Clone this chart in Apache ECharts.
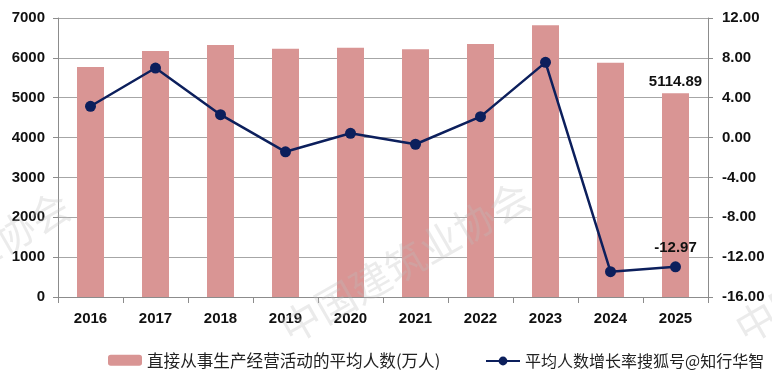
<!DOCTYPE html>
<html>
<head>
<meta charset="utf-8">
<script src="https://cdn.jsdelivr.net/npm/echarts@6/dist/echarts.min.js"></script>
<style>
html, body { margin: 0; padding: 0; background: #fff; }
#main { width: 772px; height: 378px; }
</style>
</head>
<body>
<div id="main"></div>
<script>
// 年份
var years = ['2016', '2017', '2018', '2019', '2020', '2021', '2022', '2023', '2024', '2025'];
// 直接从事生产经营活动的平均人数(万人)
var workers = [5770, 6172, 6322, 6230, 6255, 6213, 6347, 6817, 5880, 5114.89];
// 平均人数增长率(%)
var growth = [3.14, 6.98, 2.30, -1.43, 0.43, -0.67, 2.10, 7.55, -13.46, -12.97];

var barName = '直接从事生产经营活动的平均人数(万人)';
var lineName = '平均人数增长率搜狐号@知行华智';

var numFont = 'Liberation Sans';
var myChart = echarts.init(document.getElementById('main'));

function mark(x, y) {
    return {
        type: 'text', x: x, y: y, rotation: 0.52, z: 100, silent: true,
        style: {
            text: '中国建筑业协会', fontSize: 40, fontFamily: 'Noto Sans CJK SC',
            fill: 'rgba(190,190,190,0.3)', align: 'center', verticalAlign: 'middle'
        }
    };
}

option = {
    animation: false,
    grid: { left: 58, right: 64, top: 18, bottom: 81 },
    legend: [{
        left: 103, top: 347,
        itemWidth: 34, itemHeight: 11,
        textStyle: { fontSize: 16.6, color: '#222', fontFamily: 'Noto Sans CJK SC' },
        data: [barName]
    }, {
        left: 480, top: 348,
        itemWidth: 34, itemHeight: 11,
        textStyle: { fontSize: 16, color: '#222', fontFamily: 'Noto Sans CJK SC' },
        data: [lineName]
    }],
    xAxis: {
        type: 'category',
        data: years,
        axisLine: { lineStyle: { color: '#8c8c8c' } },
        axisTick: { show: true, length: 6, lineStyle: { color: '#8c8c8c' } },
        axisLabel: { margin: 14, fontSize: 15, fontWeight: 'bold', color: '#111', fontFamily: numFont }
    },
    yAxis: [{
        type: 'value', min: 0, max: 7000, interval: 1000,
        axisLine: { show: true, lineStyle: { color: '#8c8c8c' } },
        axisTick: { show: true, length: 5, lineStyle: { color: '#8c8c8c' } },
        splitLine: { lineStyle: { color: '#a6a6a6' } },
        axisLabel: {
            margin: 13, fontSize: 15, fontWeight: 'bold', color: '#111', fontFamily: numFont,
            formatter: function (v) { return String(v); }
        }
    }, {
        type: 'value', min: -16, max: 12, interval: 4,
        axisLine: { show: true, lineStyle: { color: '#8c8c8c' } },
        axisTick: { show: true, length: 5, lineStyle: { color: '#8c8c8c' } },
        splitLine: { show: false },
        axisLabel: {
            margin: 14, fontSize: 15, fontWeight: 'bold', color: '#111', fontFamily: numFont,
            formatter: function (v) { return v.toFixed(2); }
        }
    }],
    series: [{
        name: barName,
        type: 'bar',
        data: workers,
        barWidth: 27,
        itemStyle: { color: '#d99594' },
        label: {
            show: true, position: 'top', distance: 4,
            fontSize: 15, fontWeight: 'bold', color: '#111', fontFamily: numFont,
            formatter: function (p) { return p.dataIndex === workers.length - 1 ? p.value.toFixed(2) : ''; }
        }
    }, {
        name: lineName,
        type: 'line',
        yAxisIndex: 1,
        data: growth,
        symbol: 'circle',
        symbolSize: 11,
        lineStyle: { color: '#0c1f5c', width: 2.5 },
        itemStyle: { color: '#0c1f5c' },
        label: {
            show: true, position: 'top', distance: 6,
            fontSize: 15, fontWeight: 'bold', color: '#111', fontFamily: numFont,
            formatter: function (p) { return p.dataIndex === growth.length - 1 ? p.value.toFixed(2) : ''; }
        }
    }],
    graphic: [mark(-55, 272), mark(405, 262), mark(860, 262)]
};
myChart.setOption(option);
</script>
</body>
</html>
